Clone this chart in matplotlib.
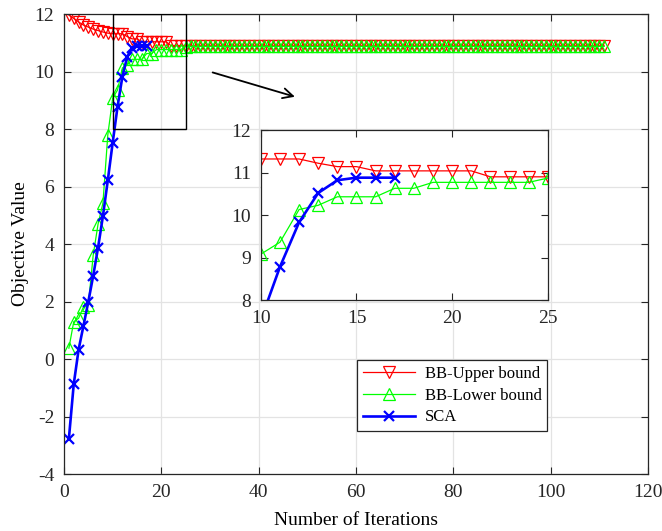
import numpy as np
import matplotlib
matplotlib.use("Agg")
from matplotlib import pyplot as plt
from matplotlib.patches import Rectangle

plt.rcParams['font.family'] = ['Liberation Serif', 'DejaVu Serif']
plt.rcParams['axes.unicode_minus'] = False

# values
n_iter = 111
upper_head = [11.97, 11.85, 11.73, 11.62, 11.55, 11.48, 11.43, 11.38, 11.34, 11.32,
              11.32, 11.32, 11.22, 11.14, 11.14, 11.04, 11.04, 11.04, 11.04, 11.04,
              11.04, 10.90, 10.90, 10.90, 10.90]
upper_tail = 10.90
lower_head = [0.38, 1.30, 1.42, 1.82, 1.88, 3.62, 4.70, 5.43, 7.80, 9.08,
              9.36, 10.13, 10.23, 10.43, 10.43, 10.43, 10.63, 10.63, 10.77, 10.77,
              10.77, 10.77, 10.77, 10.77, 10.87]
lower_tail = 10.88
sca = [-2.77, -0.87, 0.33, 1.16, 2.0, 2.9, 3.88, 4.98, 6.22, 7.53,
       8.78, 9.83, 10.52, 10.82, 10.88, 10.88, 10.88]

it = np.arange(1, n_iter + 1)
upper = np.array(upper_head + [upper_tail] * (n_iter - len(upper_head)))
lower = np.array(lower_head + [lower_tail] * (n_iter - len(lower_head)))
it_sca = np.arange(1, len(sca) + 1)

dark = '#262626'


def draw(ax, ms=8):
    ax.plot(it, upper, color='red', lw=0.9, marker='v', ms=ms, mfc='none',
            mec='red', mew=0.9, label='BB-Upper bound')
    ax.plot(it, lower, color='#00ff00', lw=0.9, marker='^', ms=ms, mfc='none',
            mec='#00ff00', mew=0.9, label='BB-Lower bound')
    ax.plot(it_sca, sca, color='blue', lw=1.9, marker='x', ms=6.5, mew=1.6,
            label='SCA')


def style(ax, size, grid=True):
    if grid:
        ax.grid(True, color='#e3e3e3', lw=0.9)
        ax.set_axisbelow(True)
    ax.tick_params(direction='in', length=5, width=0.8, colors=dark,
                   labelsize=size, top=True, right=True, pad=7)
    for s in ax.spines.values():
        s.set_color(dark)
        s.set_linewidth(0.9)


fig = plt.figure(figsize=(6.62, 5.31), dpi=100)
ax = fig.add_axes([0.0967, 0.1073, 0.882, 0.866])
draw(ax)
ax.set_xlim(0, 120)
ax.set_ylim(-4, 12)
ax.set_xticks(np.arange(0, 121, 20))
ax.set_yticks(np.arange(-4, 13, 2))
style(ax, 14)
ax.set_xlabel('Number of Iterations', fontsize=14, labelpad=8)
ax.set_ylabel('Objective Value', fontsize=14, labelpad=4)

ax.add_patch(Rectangle((10, 8), 15, 4, fill=False, ec='black', lw=1.0, zorder=5))
ax.annotate('', xy=(48, 9.1), xytext=(30, 10),
            arrowprops=dict(arrowstyle='->', color='black', lw=1.3,
                            mutation_scale=18))

leg = ax.legend(loc='upper left', bbox_to_anchor=(0.502, 0.248),
                borderaxespad=0, fontsize=12, handlelength=3.1,
                fancybox=False, framealpha=1, edgecolor=dark,
                labelspacing=0.35, borderpad=0.35, handletextpad=0.6)
leg.get_frame().set_linewidth(0.9)

ins = fig.add_axes([0.394, 0.435, 0.4335, 0.320])
draw(ins, ms=9)
ins.set_xlim(10, 25)
ins.set_ylim(8, 12)
ins.set_xticks([10, 15, 20, 25])
ins.set_yticks([8, 9, 10, 11, 12])
style(ins, 14, grid=False)

fig.savefig('out.png', dpi=100)
